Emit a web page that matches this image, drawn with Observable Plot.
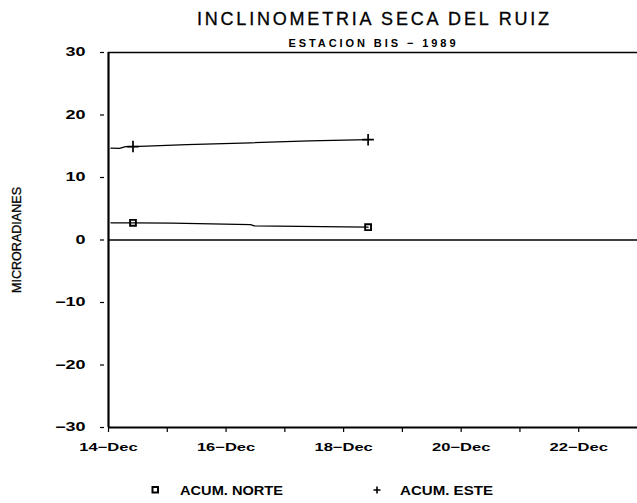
<!DOCTYPE html>
<html><head><meta charset="utf-8">
<script src="https://cdn.jsdelivr.net/npm/d3@7"></script>
<script src="https://cdn.jsdelivr.net/npm/@observablehq/plot@0.6"></script>
<style>
body{margin:0;background:#fff}
#wrap{position:relative;width:637px;height:503px;overflow:hidden;background:#fff}
#wrap svg{position:absolute;left:0;top:0}
</style>
</head><body><div id="wrap"></div>
<script>
// ---- data ----
const norteTimes  = ["1989-12-14T01:00Z","1989-12-14T10:00Z","1989-12-15T02:00Z","1989-12-16T10:00Z","1989-12-16T11:30Z","1989-12-18T10:00Z"];
const norteValues = [2.75, 2.75, 2.7, 2.45, 2.25, 2.05];
const norteMarkerIdx = [1, 5];

const esteTimes  = ["1989-12-14T01:00Z","1989-12-14T04:30Z","1989-12-14T07:00Z","1989-12-14T10:00Z","1989-12-15T08:00Z","1989-12-16T10:00Z","1989-12-17T10:00Z","1989-12-18T10:00Z"];
const esteValues = [14.7, 14.65, 14.95, 14.95, 15.25, 15.55, 15.85, 16.05];
const esteMarkerIdx = [3, 7];

const xDomain = ["1989-12-14T00:00Z", "1989-12-23T00:00Z"];
const xTickDates = ["1989-12-14","1989-12-15","1989-12-16","1989-12-17","1989-12-18","1989-12-19","1989-12-20","1989-12-21","1989-12-22"];
const xTickLabels = ["14−Dec","","16−Dec","","18−Dec","","20−Dec","","22−Dec"];
const yTicks = [-30, -20, -10, 0, 10, 20, 30];
const yTickLabels = ["−30","−20","−10","0","10","20","30"];

const title = "INCLINOMETRIA SECA DEL RUIZ";
const subtitle = "ESTACION BIS − 1989";
const yLabel = "MICRORADIANES";
const legendNames = ["ACUM. NORTE", "ACUM. ESTE"];

// ---- build ----
const norte = norteTimes.map((t, i) => ({date: new Date(t), value: norteValues[i]}));
const este = esteTimes.map((t, i) => ({date: new Date(t), value: esteValues[i]}));
const norteMarks = norteMarkerIdx.map(i => norte[i]);
const esteMarks = esteMarkerIdx.map(i => este[i]);
const tickDates = xTickDates.map(d => new Date(d + "T00:00Z"));
const tickLabelMap = new Map(tickDates.map((d, i) => [+d, xTickLabels[i]]));
const yLabelMap = new Map(yTicks.map((v, i) => [v, yTickLabels[i]]));

const plot = Plot.plot({
  width: 637,
  height: 503,
  marginTop: 52,
  marginBottom: 76,
  marginLeft: 108,
  marginRight: 0,
  style: {fontFamily: "'Liberation Sans', Arial, sans-serif", fontSize: "11px", fontWeight: "bold", color: "black", background: "white"},
  x: {type: "utc", domain: xDomain.map(d => new Date(d))},
  y: {domain: [-30, 30]},
  marks: [
    Plot.ruleY([30], {stroke: "black", strokeWidth: 1.4}),
    Plot.ruleY([0], {stroke: "black", strokeWidth: 1.4}),
    Plot.ruleY([-30], {stroke: "black", strokeWidth: 1.8}),
    Plot.ruleX([new Date(xDomain[0])], {stroke: "black", strokeWidth: 2.2}),
    Plot.axisY({ticks: yTicks, tickFormat: v => yLabelMap.get(v), tickSize: 4, dx: -4, tickPadding: 15, label: null, fontSize: 12, strokeWidth: 1.2}),
    Plot.axisX({ticks: tickDates, tickFormat: d => tickLabelMap.get(+d), tickSize: 5, tickPadding: 11, label: null, fontSize: 11, strokeWidth: 1.2}),
    Plot.line(norte, {x: "date", y: "value", stroke: "black", strokeWidth: 1.3}),
    Plot.line(este, {x: "date", y: "value", stroke: "black", strokeWidth: 1.3}),
    Plot.dot(norteMarks, {x: "date", y: "value", symbol: "square", r: 3.3, stroke: "black", strokeWidth: 1.9, fill: "none"}),
    Plot.dot(esteMarks, {x: "date", y: "value", symbol: "plus", r: 3.8, stroke: "black", strokeWidth: 1.7})
  ]
});
const wrap = document.getElementById("wrap");
wrap.appendChild(plot);

// widen axis labels like the scanned original
d3.select(plot).selectAll("g[aria-label='y-axis tick label'] text, g[aria-label='x-axis tick label'] text").each(function() {
  const len = this.getComputedTextLength();
  if (len > 0) { this.setAttribute("textLength", (len * 1.5).toFixed(1)); this.setAttribute("lengthAdjust", "spacingAndGlyphs"); }
});

// overlay: titles, y label, legend
const ov = d3.select(wrap).append("svg").attr("width", 637).attr("height", 503)
  .style("font-family", "'Liberation Sans', Arial, sans-serif").style("pointer-events", "none");
ov.append("text").attr("x", 373).attr("y", 24.5).attr("text-anchor", "middle")
  .attr("font-size", 18).attr("stroke", "black").attr("stroke-width", 0.3)
  .attr("textLength", 352).attr("lengthAdjust", "spacing").text(title);
ov.append("text").attr("x", 372).attr("y", 47).attr("text-anchor", "middle")
  .attr("font-size", 11).attr("font-weight", "bold").attr("textLength", 167).attr("lengthAdjust", "spacing").text(subtitle);
ov.append("text").attr("transform", "translate(21,240) rotate(-90)").attr("text-anchor", "middle")
  .attr("font-size", 12).attr("stroke", "black").attr("stroke-width", 0.3)
  .attr("textLength", 106).attr("lengthAdjust", "spacingAndGlyphs").text(yLabel);
// legend
ov.append("rect").attr("x", 152.5).attr("y", 487).attr("width", 5.5).attr("height", 5.5)
  .attr("fill", "none").attr("stroke", "black").attr("stroke-width", 2);
ov.append("text").attr("x", 180).attr("y", 494.5).attr("font-size", 12).attr("font-weight", "bold")
  .attr("textLength", 103).attr("lengthAdjust", "spacingAndGlyphs").text(legendNames[0]);
ov.append("path").attr("d", "M373.5,490H380.5M377,486.5V493.5").attr("stroke", "black").attr("stroke-width", 1.6);
ov.append("text").attr("x", 400).attr("y", 494.5).attr("font-size", 12).attr("font-weight", "bold")
  .attr("textLength", 93).attr("lengthAdjust", "spacingAndGlyphs").text(legendNames[1]);
</script>
</body></html>
